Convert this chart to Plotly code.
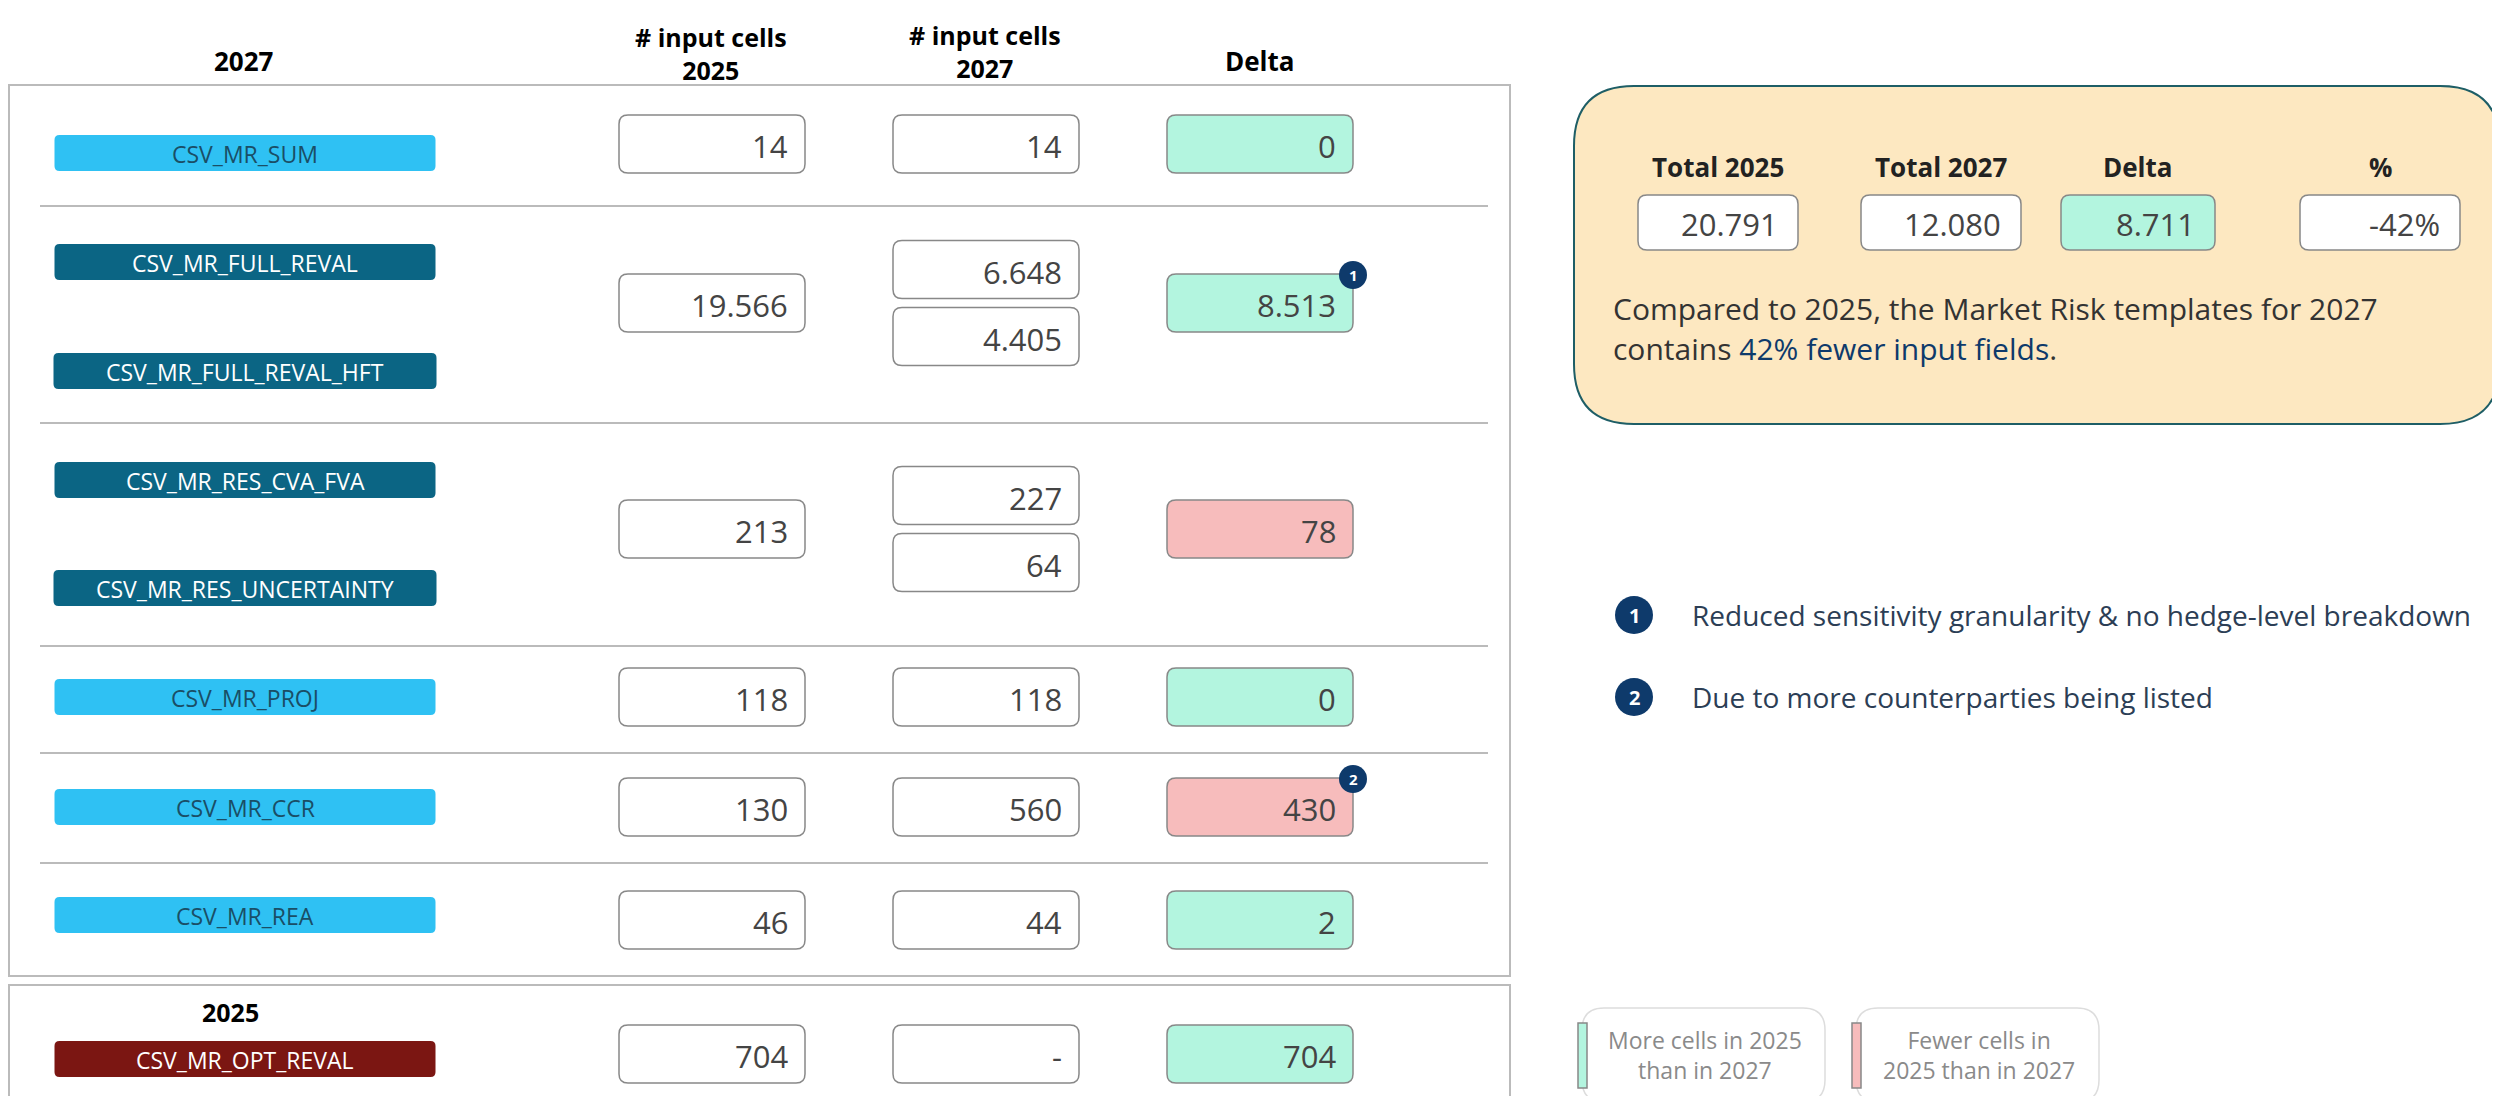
import plotly.graph_objects as go

# ====== data ======
groups_2027 = [["CSV_MR_SUM"], ["CSV_MR_FULL_REVAL", "CSV_MR_FULL_REVAL_HFT"],
               ["CSV_MR_RES_CVA_FVA", "CSV_MR_RES_UNCERTAINTY"], ["CSV_MR_PROJ"],
               ["CSV_MR_CCR"], ["CSV_MR_REA"]]
groups_2025 = [["CSV_MR_OPT_REVAL"]]
cells_2025 = ["14", "19.566", "213", "118", "130", "46", "704"]
cells_2027 = [["14"], ["6.648", "4.405"], ["227", "64"], ["118"], ["560"], ["44"], ["-"]]
delta = ["0", "8.513", "78", "0", "430", "2", "704"]
delta_more_2025 = [True, True, False, True, False, True, True]
badges = {1: "1", 4: "2"}

total_labels = ["Total 2025", "Total 2027", "Delta", "%"]
total_values = ["20.791", "12.080", "8.711", "-42%"]
notes = ["Reduced sensitivity granularity & no hedge-level breakdown",
         "Due to more counterparties being listed"]
legend_texts = ["More cells in 2025<br>than in 2027", "Fewer cells in<br>2025 than in 2027"]

# ====== layout constants ======
W, H = 2500, 1096
GREEN, RED = "#B3F5DF", "#F7BCBC"
LIGHT, DARK, MAROON = "#2FC1F3", "#0B6584", "#7B1612"
NAVY = "#0E3A6B"
FONT = "Open Sans"

fig = go.Figure()
shapes, ann = [], []


def rrect(x0, y0, x1, y1, r, fill, line="#888888", lw=1.5):
    p = (f"M {x0+r},{y0} L {x1-r},{y0} Q {x1},{y0} {x1},{y0+r} L {x1},{y1-r} "
         f"Q {x1},{y1} {x1-r},{y1} L {x0+r},{y1} Q {x0},{y1} {x0},{y1-r} "
         f"L {x0},{y0+r} Q {x0},{y0} {x0+r},{y0} Z")
    shapes.append(dict(type="path", path=p, fillcolor=fill,
                       line=dict(color=line, width=lw), layer="below"))


def text(x, y, s, size, color="#333333", bold=False, xanchor="center", family=FONT):
    if bold:
        s = f"<b>{s}</b>"
    ann.append(dict(x=x, y=y, text=s, showarrow=False, xanchor=xanchor, yanchor="middle",
                    font=dict(size=size, color=color, family=family)))


def valbox(xc, yc, s, fill="white"):
    rrect(xc - 93, yc - 29, xc + 93, yc + 29, 9, fill)
    text(xc + 78, yc + 2, s, 31, "#444444", xanchor="right")


def badge(x, y, s, r):
    shapes.append(dict(type="circle", x0=x - r, x1=x + r, y0=y - r, y1=y + r,
                       fillcolor=NAVY, line=dict(color=NAVY, width=0)))
    text(x, y, f"<b>{s}</b>", int(r * 1.1), "white")


def pill(xc, yc, s, color, w=381):
    rrect(xc - w / 2, yc - 18, xc + w / 2, yc + 18, 5, color, line=color, lw=0)
    text(xc, yc + 1, s, 23, "white" if color != LIGHT else "#1A4E66")


# ====== headers ======
text(236, 53, "2027", 26, "black", True)
text(703, 45, "# input cells<br>2025", 25, "black", True)
text(977, 43, "# input cells<br>2027", 25, "black", True)
text(1252, 53, "Delta", 26, "black", True)

# table frames
shapes.append(dict(type="rect", x0=1, x1=1502, y0=77, y1=968, line=dict(color="#BBBBBB", width=2)))
shapes.append(dict(type="rect", x0=1, x1=1502, y0=977, y1=1094, line=dict(color="#BBBBBB", width=2)))
for ys in [198, 415, 638, 745, 855]:
    shapes.append(dict(type="line", x0=32, x1=1480, y0=ys, y1=ys, line=dict(color="#BBBBBB", width=2)))
text(222, 1004, "2025", 25, "black", True)

# rows: (pill centres y, value row centre y)
pill_y = [[145], [254, 363], [472, 580], [689], [799], [907], [1051]]
row_y = [136, 295, 521, 689, 799, 912, 1046]
colors = [LIGHT, DARK, DARK, LIGHT, LIGHT, LIGHT, MAROON]
all_groups = groups_2027 + groups_2025
for i, names in enumerate(all_groups):
    for n, py in zip(names, pill_y[i]):
        pill(237, py, n, colors[i], 383 if len(n) > 18 else 381)
    valbox(704, row_y[i], cells_2025[i])
    if len(cells_2027[i]) == 1:
        valbox(978, row_y[i], cells_2027[i][0])
    else:
        for k, v in enumerate(cells_2027[i]):
            valbox(978, row_y[i] + (k - 0.5) * 67, v)
    valbox(1252, row_y[i], delta[i], GREEN if delta_more_2025[i] else RED)
    if i in badges:
        badge(1345, row_y[i] - 28, badges[i], 14)

# ====== summary panel ======
rrect(1566, 78, 2492, 416, 60, "#FDE8C1", line="#1E5E66", lw=2)
tx = [1710, 1933, 2130, 2372]
for k, (lab, v) in enumerate(zip(total_labels, total_values)):
    text(tx[k], 159, lab, 26, "#222222", True)
    w = 80 if lab != "Delta" else 77
    rrect(tx[k] - w, 187, tx[k] + w, 242, 9, GREEN if lab == "Delta" else "white")
    text(tx[k] + w - 18, 216, v, 31, "#444444", xanchor="right")
text(1603, 300, "Compared to 2025, the Market Risk templates for 2027", 30, "#333333", xanchor="left")
text(1603, 340, f"contains <span style='color:{NAVY}'>42% fewer input fields</span>.", 30,
     "#333333", xanchor="left")

# ====== footnotes ======
for k, s in enumerate(notes):
    y = 607 + k * 82
    badge(1626, y, str(k + 1), 19)
    text(1682, y, s, 28, "#2C3E55", xanchor="left")

# ====== legend ======
lx = [1574, 1848]
for k, s in enumerate(legend_texts):
    rrect(lx[k], 1000, lx[k] + 243, 1094, 22, "white", line="#DDDDDD", lw=1.5)
    shapes.append(dict(type="rect", x0=lx[k] - 4, x1=lx[k] + 5, y0=1015, y1=1080,
                       fillcolor=GREEN if k == 0 else RED, line=dict(color="#888888", width=1.5)))
    text(lx[k] + 123, 1047, s, 23, "#8A8A8A")

fig.update_layout(
    width=W, height=H, margin=dict(l=0, r=0, t=0, b=0),
    paper_bgcolor="white", plot_bgcolor="white",
    xaxis=dict(range=[0, W], visible=False, fixedrange=True),
    yaxis=dict(range=[H, 0], visible=False, fixedrange=True),
    shapes=shapes, annotations=ann, showlegend=False,
)
fig.write_html("out.html")
